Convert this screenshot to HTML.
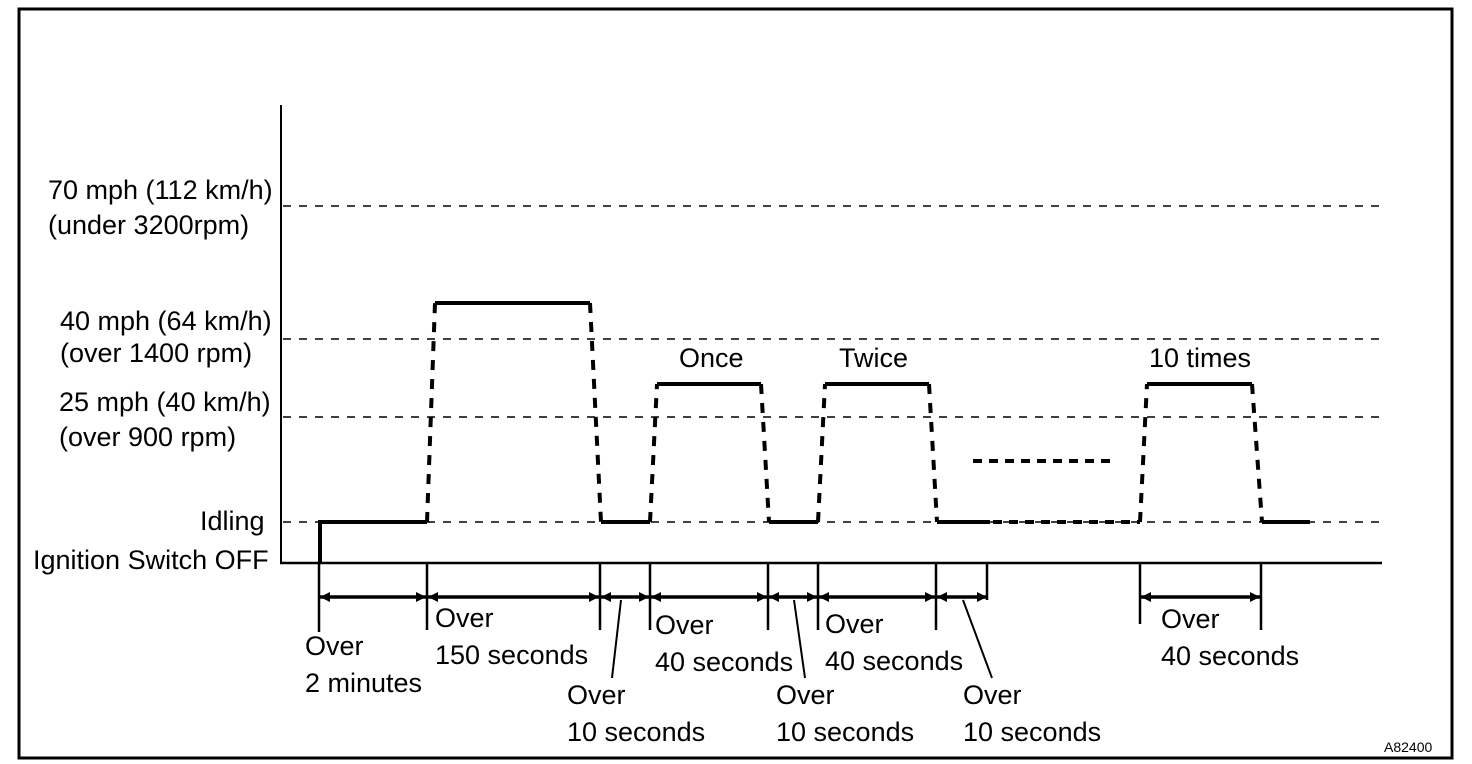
<!DOCTYPE html>
<html><head><meta charset="utf-8"><style>
html,body{margin:0;padding:0;background:#fff;}
svg{display:block;}
text{font-family:"Liberation Sans",Arial,sans-serif;font-size:27px;fill:#000;}
</style></head><body>
<svg width="1472" height="764" viewBox="0 0 1472 764" xmlns="http://www.w3.org/2000/svg">
<defs>
<marker id="ar" viewBox="0 0 10 10" refX="10" refY="5" markerWidth="20" markerHeight="10" markerUnits="userSpaceOnUse" orient="auto-start-reverse">
<path d="M0,0 L10,5 L0,10 Z" fill="#000"/></marker>
</defs>
<rect x="19" y="9" width="1433" height="749" fill="none" stroke="#000" stroke-width="3"/>
<line x1="281" y1="105" x2="281" y2="564" stroke="#000" stroke-width="2"/>
<line x1="280" y1="563" x2="1382" y2="563" stroke="#000" stroke-width="2.5"/>
<g stroke="#000" stroke-width="1.5" stroke-dasharray="8,8">
<line x1="283" y1="206" x2="1382" y2="206"/>
<line x1="283" y1="339" x2="1382" y2="339"/>
<line x1="283" y1="417" x2="1382" y2="417"/>
<line x1="283" y1="522" x2="1382" y2="522"/>
</g>
<g stroke="#000" stroke-width="4" fill="none">
<polyline points="320,563 320,522 427,522"/>
<line x1="435" y1="303" x2="590" y2="303"/>
<line x1="601" y1="522" x2="650" y2="522"/>
<line x1="657" y1="384" x2="761" y2="384"/>
<line x1="769" y1="522" x2="818" y2="522"/>
<line x1="825" y1="384" x2="929" y2="384"/>
<line x1="937" y1="522" x2="990" y2="522"/>
<line x1="1147" y1="384" x2="1252" y2="384"/>
<line x1="1262" y1="522" x2="1310" y2="522"/>
</g>
<g stroke="#000" stroke-width="4" fill="none" stroke-dasharray="10,9">
<line x1="427" y1="522" x2="435" y2="303"/>
<line x1="590" y1="303" x2="601" y2="522"/>
<line x1="650" y1="522" x2="657" y2="384"/>
<line x1="761" y1="384" x2="769" y2="522"/>
<line x1="818" y1="522" x2="825" y2="384"/>
<line x1="929" y1="384" x2="937" y2="522"/>
<line x1="1140" y1="522" x2="1147" y2="384"/>
<line x1="1252" y1="384" x2="1262" y2="522"/>
<line x1="993" y1="522" x2="1140" y2="522" stroke-dasharray="9,7"/>
<line x1="973" y1="461" x2="1115" y2="461" stroke-dasharray="9,7"/>
</g>
<g stroke="#000" stroke-width="2.5">
<line x1="319" y1="563" x2="319" y2="632"/>
<line x1="427" y1="563" x2="427" y2="630"/>
<line x1="600" y1="563" x2="600" y2="630"/>
<line x1="650" y1="563" x2="650" y2="630"/>
<line x1="768" y1="563" x2="768" y2="630"/>
<line x1="818" y1="563" x2="818" y2="630"/>
<line x1="936" y1="563" x2="936" y2="630"/>
<line x1="987" y1="563" x2="987" y2="600"/>
<line x1="1140" y1="563" x2="1140" y2="624"/>
<line x1="1261" y1="563" x2="1261" y2="630"/>
</g>
<g stroke="#000" stroke-width="3.5" marker-start="url(#ar)" marker-end="url(#ar)">
<line x1="320" y1="597" x2="426" y2="597"/>
<line x1="428" y1="597" x2="599" y2="597"/>
<line x1="601" y1="597" x2="649" y2="597"/>
<line x1="651" y1="597" x2="767" y2="597"/>
<line x1="769" y1="597" x2="817" y2="597"/>
<line x1="819" y1="597" x2="935" y2="597"/>
<line x1="937" y1="597" x2="987" y2="597"/>
<line x1="1141" y1="597" x2="1260" y2="597"/>
</g>
<g stroke="#000" stroke-width="2">
<line x1="621" y1="600" x2="612" y2="678"/>
<line x1="794" y1="600" x2="805" y2="678"/>
<line x1="963" y1="600" x2="992" y2="678"/>
</g>
<text x="48" y="199">70 mph (112 km/h)</text>
<text x="48" y="234">(under 3200rpm)</text>
<text x="60" y="330">40 mph (64 km/h)</text>
<text x="60" y="362">(over 1400 rpm)</text>
<text x="59" y="411">25 mph (40 km/h)</text>
<text x="59" y="446">(over 900 rpm)</text>
<text x="200" y="530">Idling</text>
<text x="33" y="569">Ignition Switch OFF</text>
<text x="679" y="367">Once</text>
<text x="839" y="367">Twice</text>
<text x="1149" y="367">10 times</text>
<text x="305" y="655">Over</text>
<text x="305" y="692">2 minutes</text>
<text x="435" y="627">Over</text>
<text x="435" y="664">150 seconds</text>
<text x="567" y="704">Over</text>
<text x="567" y="741">10 seconds</text>
<text x="655" y="634">Over</text>
<text x="655" y="671">40 seconds</text>
<text x="776" y="704">Over</text>
<text x="776" y="741">10 seconds</text>
<text x="825" y="633">Over</text>
<text x="825" y="670">40 seconds</text>
<text x="963" y="704">Over</text>
<text x="963" y="741">10 seconds</text>
<text x="1161" y="628">Over</text>
<text x="1161" y="665">40 seconds</text>
<text x="1384" y="752" style="font-size:14px">A82400</text>
</svg>
</body></html>
